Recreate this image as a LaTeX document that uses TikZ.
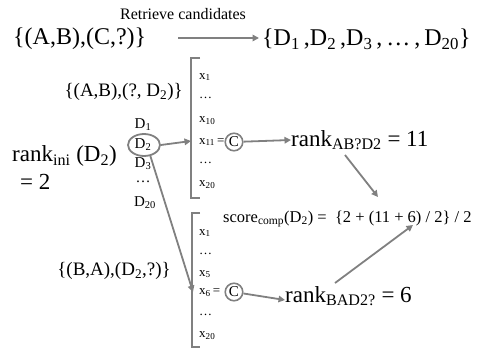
\documentclass[tikz,border=0pt]{standalone}
\usepackage{fontspec}
\setmainfont{Liberation Serif}
\usetikzlibrary{arrows.meta,shapes.geometric}
\definecolor{lg}{HTML}{808080}
\newcommand{\fs}[1]{\fontsize{#1}{#1}\selectfont}
\begin{document}
\begin{tikzpicture}[x=1pt,y=-1pt,
  txt/.style={inner sep=0pt, text=black},
  item/.style={txt, anchor=west, font=\fs{13}},
  dd/.style={txt, font=\fs{15}},
  conn/.style={draw=lg, line width=1.8pt},
  arr/.style={conn, -{Triangle[width=6.5pt,length=6.5pt]}},
  cc/.style={circle, draw=lg, line width=1.6pt, inner sep=1.2pt, font=\fs{15}}
]
\useasboundingbox (0,0) rectangle (483,351);
% top
\node[txt, font=\fs{16}] (ret) at (183,14) {Retrieve candidates};
\node[txt, font=\fs{24}, anchor=west] (q) at (13,39) {\{(A,B),(C,?)\}};
\node[txt, font=\fs{24}, anchor=west] (cand) at (262,39) {\{D\textsubscript{1}\,,D\textsubscript{2}\,,D\textsubscript{3}\,,\,\dots\,,\,D\textsubscript{20}\}};
\draw[arr] ([xshift=-84pt,yshift=1pt]cand.west) -- ([xshift=-3pt,yshift=1pt]cand.west);
% left labels
\node[txt, font=\fs{19}, anchor=east] (p1) at (183,92) {\{(A,B),(?, D\textsubscript{2})\}};
\node[txt, font=\fs{19}, anchor=east] (p2) at (171,271) {\{(B,A),(D\textsubscript{2},?)\}};
\node[txt, font=\fs{23}, anchor=west] (ri) at (12,156) {rank\textsubscript{ini} (D\textsubscript{2})};
\node[txt, font=\fs{23}, anchor=west] (r2) at (20,182) {= 2};
% D list
\node[dd] (d1) at (143,125) {D\textsubscript{1}};
\node[dd] (d2) at (143,145) {D\textsubscript{2}};
\node[dd] (d3) at (143,164) {D\textsubscript{3}};
\node[dd] (d4) at (143,182) {\dots};
\node[dd] (d20) at (145,203) {D\textsubscript{20}};
\node[ellipse, draw=lg, line width=1.8pt, minimum width=32pt, minimum height=22pt, inner sep=0pt] (e) at (144,145) {};
% bracket 1
\coordinate (b1a) at (200,58);
\coordinate (b1b) at (191,58);
\coordinate (b1c) at (191,198);
\coordinate (b1d) at (200,198);
\draw[conn] (b1a) -- (b1b) -- (b1c) -- (b1d);
\node[item] (x1) at (199,77) {x\textsubscript{1}};
\node[item] (x2) at (199,98) {\dots};
\node[item] (x10) at (199,121) {x\textsubscript{10}};
\node[item] (x11) at (199,142) {x\textsubscript{11}\,=};
\node[item] (x12) at (199,163) {\dots};
\node[item] (x20) at (199,185) {x\textsubscript{20}};
\node[cc] (c1) at (234,142) {C};
\node[txt, font=\fs{23}, anchor=west] (rk1) at (291,140) {rank\textsubscript{AB?D2} = 11};
\draw[arr] (c1) -- (rk1.west);
% bracket 2
\coordinate (b2a) at (200,213);
\coordinate (b2b) at (192,213);
\coordinate (b2c) at (192,347);
\coordinate (b2d) at (200,347);
\draw[conn] (b2a) -- (b2b) -- (b2c) -- (b2d);
\node[item] (y1) at (199,233) {x\textsubscript{1}};
\node[item] (y2) at (199,254) {\dots};
\node[item] (y5) at (199,274) {x\textsubscript{5}};
\node[item] (y6) at (199,293) {x\textsubscript{6}\,=};
\node[item] (y7) at (199,315) {\dots};
\node[item] (y20) at (199,336) {x\textsubscript{20}};
\node[cc] (c2) at (234,292) {C};
\node[txt, font=\fs{23}, anchor=west] (rk2) at (285,296) {rank\textsubscript{BAD2?} = 6};
\draw[arr] (c2) -- ([yshift=-4pt]rk2.west);
% score
\node[txt, font=\fs{16.5}, anchor=west] (sc) at (223,219) {score\textsubscript{comp}(D\textsubscript{2}) =\ \ \{2 + (11 + 6) / 2\} / 2};
% D2 arrows
\coordinate (in1) at (191,141);
\coordinate (in2) at (193,292);
\draw[arr] (e.east) -- (in1);
\draw[arr] (e.300) -- (in2);
% to score
\coordinate (s1a) at (345,155);
\coordinate (s1b) at (378,197);
\coordinate (s2a) at (335,283);
\coordinate (s2b) at (413,225);
\draw[arr] (s1a) -- (s1b);
\draw[arr] (s2a) -- (s2b);
\end{tikzpicture}
\end{document}
